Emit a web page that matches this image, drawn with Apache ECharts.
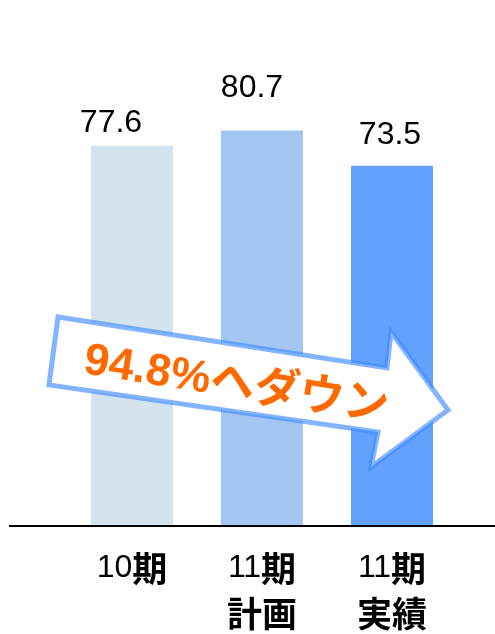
<!DOCTYPE html>
<html>
<head>
<meta charset="utf-8">
<script src="https://cdn.jsdelivr.net/npm/echarts@6/dist/echarts.min.js"></script>
<style>html,body{margin:0;padding:0;background:#fff;}#c{width:495px;height:634px;}</style>
</head>
<body>
<div id="c"></div>
<script>
const categories = ['{n|10}{b|期}', '{n|11}{b|期}\n{b|計画}', '{n|11}{b|期}\n{b|実績}'];
const values = [77.6, 80.7, 73.5];
const barColors = ['#D4E4EC', '#A4C6F2', '#62A1FE'];
const labelDistance = [7, 26, 15];
const labelShiftX = [-21, -10, -2];
const arrowText = '94.8%ヘダウン';

const chart = echarts.init(document.getElementById('c'), null, {renderer: 'canvas'});
const option = {
  animation: false,
  backgroundColor: '#fff',
  grid: {left: 67, right: 38, top: 36, bottom: 108},
  xAxis: {
    type: 'category',
    data: categories,
    axisLine: {show: false},
    axisTick: {show: false},
    axisLabel: {
      margin: 20,
      interval: 0,
      verticalAlign: 'top',
      rich: {
        n: {fontSize: 32, fontFamily: 'Liberation Sans', color: '#000', lineHeight: 45},
        b: {fontSize: 35, fontWeight: 'bold', fontFamily: 'Noto Sans CJK JP', color: '#000', lineHeight: 45}
      }
    }
  },
  yAxis: {type: 'value', min: 0, max: 100, show: false},
  series: [{
    type: 'bar',
    barWidth: 82,
    data: values.map((v, i) => ({
      value: v,
      itemStyle: {color: barColors[i]},
      label: {distance: labelDistance[i], offset: [labelShiftX[i], 0]}
    })),
    label: {
      show: true,
      position: 'top',
      fontSize: 32,
      fontFamily: 'Liberation Sans',
      color: '#000'
    }
  }],
  graphic: [
    {type: 'line', z: 10, shape: {x1: 9, y1: 526, x2: 495, y2: 526}, style: {stroke: '#000', lineWidth: 2}},
    {
      type: 'polygon', z: 20,
      shape: {points: [[58, 317], [387, 368], [391, 332], [448, 410], [371, 467], [378, 432], [49, 385]]},
      style: {fill: '#fff', stroke: 'rgba(64,140,255,0.65)', lineWidth: 5, lineJoin: 'miter'}
    },
    {
      type: 'text', z: 30,
      x: 236, y: 385, rotation: -0.158,
      style: {
        text: arrowText,
        fontSize: 45, fontWeight: 'bold',
        fontFamily: 'Liberation Sans, Noto Sans CJK JP',
        fill: '#FF6A00', align: 'center', verticalAlign: 'middle'
      }
    }
  ]
};
chart.setOption(option);
</script>
</body>
</html>
